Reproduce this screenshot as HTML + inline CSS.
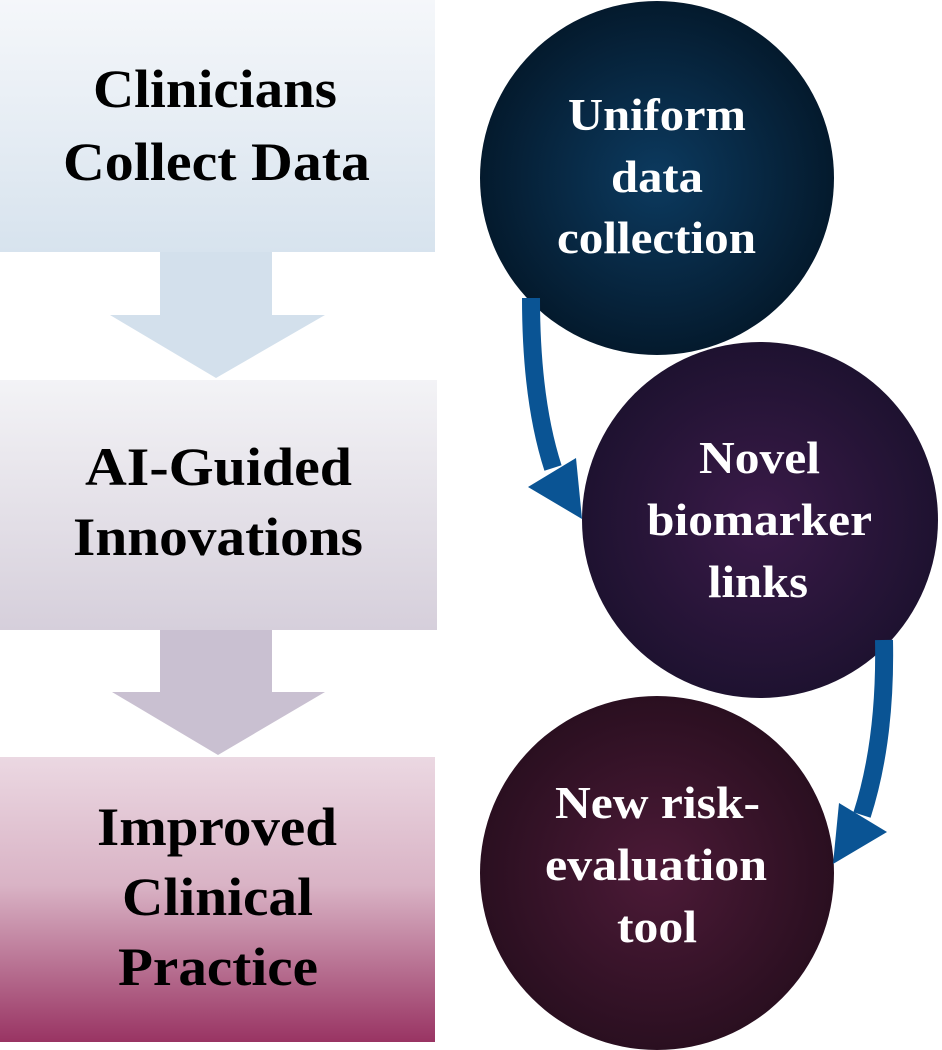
<!DOCTYPE html>
<html><head><meta charset="utf-8"><style>html,body{margin:0;padding:0;background:#fff}svg{display:block}</style></head>
<body>
<svg width="942" height="1050" viewBox="0 0 942 1050" xmlns="http://www.w3.org/2000/svg">
<defs>
<linearGradient id="b1" x1="0" y1="0" x2="0" y2="1"><stop offset="0" stop-color="#f5f7fa"/><stop offset="1" stop-color="#d7e3ee"/></linearGradient>
<linearGradient id="b2" x1="0" y1="0" x2="0" y2="1"><stop offset="0" stop-color="#f3f3f6"/><stop offset="1" stop-color="#d6cfdb"/></linearGradient>
<linearGradient id="b3" x1="0" y1="0" x2="0" y2="1"><stop offset="0" stop-color="#ebd8e2"/><stop offset="0.45" stop-color="#d9b3c5"/><stop offset="1" stop-color="#993463"/></linearGradient>
<radialGradient id="c1" cx="0.5" cy="0.5" r="0.5"><stop offset="0" stop-color="#0c3a5f"/><stop offset="1" stop-color="#041a2d"/></radialGradient>
<radialGradient id="c2" cx="0.5" cy="0.5" r="0.5"><stop offset="0" stop-color="#3a1a48"/><stop offset="1" stop-color="#1e1230"/></radialGradient>
<radialGradient id="c3" cx="0.5" cy="0.5" r="0.5"><stop offset="0" stop-color="#4c1a37"/><stop offset="1" stop-color="#2a0f20"/></radialGradient>
</defs>
<rect x="0" y="0" width="435" height="252" fill="url(#b1)"/>
<polygon points="160,252 272,252 272,315 325,315 216,378 110,315 160,315" fill="#d3e0ec"/>
<rect x="0" y="380" width="437" height="250" fill="url(#b2)"/>
<polygon points="160,630 272,630 272,692 325,692 218,755 112,692 160,692" fill="#c9c0d1"/>
<rect x="0" y="757" width="435" height="285" fill="url(#b3)"/>
<g font-family="'Liberation Serif',serif" font-weight="bold" font-size="54" fill="#000" lengthAdjust="spacingAndGlyphs">
<text x="93" y="107" textLength="244" lengthAdjust="spacingAndGlyphs">Clinicians</text>
<text x="63" y="180" textLength="307" lengthAdjust="spacingAndGlyphs">Collect Data</text>
<text x="85" y="485" textLength="267" lengthAdjust="spacingAndGlyphs">AI-Guided</text>
<text x="73" y="555" textLength="290" lengthAdjust="spacingAndGlyphs">Innovations</text>
<text x="97" y="845" textLength="240" lengthAdjust="spacingAndGlyphs">Improved</text>
<text x="122" y="915" textLength="191" lengthAdjust="spacingAndGlyphs">Clinical</text>
<text x="118" y="985" textLength="200" lengthAdjust="spacingAndGlyphs">Practice</text>
</g>
<circle cx="657" cy="178" r="177" fill="url(#c1)"/>
<circle cx="760" cy="520" r="178" fill="url(#c2)"/>
<circle cx="657" cy="873" r="177" fill="url(#c3)"/>
<path d="M531,298 Q531,400 553,468" stroke="#0a5494" stroke-width="18" fill="none"/>
<polygon points="528,487 576,458 582,519" fill="#0a5494"/>
<path d="M884,640 Q886,740 862,815" stroke="#0a5494" stroke-width="18" fill="none"/>
<polygon points="839,803 887,832 833,864" fill="#0a5494"/>
<g font-family="'Liberation Serif',serif" font-weight="bold" font-size="46" fill="#fff">
<text x="568" y="130" textLength="178" lengthAdjust="spacingAndGlyphs">Uniform</text>
<text x="611" y="192" textLength="92" lengthAdjust="spacingAndGlyphs">data</text>
<text x="557" y="253" textLength="199" lengthAdjust="spacingAndGlyphs">collection</text>
<text x="699" y="473" textLength="121" lengthAdjust="spacingAndGlyphs">Novel</text>
<text x="647" y="535" textLength="225" lengthAdjust="spacingAndGlyphs">biomarker</text>
<text x="708" y="597" textLength="100" lengthAdjust="spacingAndGlyphs">links</text>
<text x="555" y="818" textLength="205" lengthAdjust="spacingAndGlyphs">New risk-</text>
<text x="545" y="880" textLength="222" lengthAdjust="spacingAndGlyphs">evaluation</text>
<text x="617" y="942" textLength="80" lengthAdjust="spacingAndGlyphs">tool</text>
</g>
</svg>
</body></html>
